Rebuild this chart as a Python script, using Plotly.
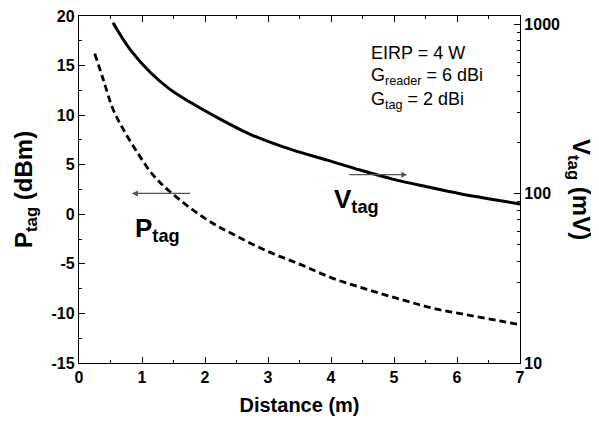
import plotly.graph_objects as go

# V_tag (solid, right log axis, mV)
v_dist = [0.54, 0.81, 1.13, 1.44, 1.76, 2.24, 2.71, 3.03, 3.40, 3.94, 4.46, 4.98, 5.52, 6.05, 6.57, 7.0]
v_tag = [1024, 713, 522, 415, 348, 276, 225, 202, 181, 158, 138, 122, 110, 100, 92.5, 87]

# P_tag (dashed, left axis, dBm)
p_dist = [0.25, 0.38, 0.54, 0.70, 0.92, 1.17, 1.44, 2.0, 2.44, 2.98, 3.51, 4.03, 4.57, 5.1, 5.62, 6.16, 6.68, 6.97]
p_tag = [16.2, 13.7, 10.6, 8.6, 6.3, 4.0, 2.3, -0.42, -2.0, -3.7, -5.05, -6.46, -7.57, -8.57, -9.48, -10.15, -10.75, -11.1]

x_ticks = [0, 1, 2, 3, 4, 5, 6, 7]
y_ticks = [-15, -10, -5, 0, 5, 10, 15, 20]
y2_ticks = [10, 100, 1000]

FONT = "Liberation Sans, Arial, sans-serif"

fig = go.Figure()
fig.add_trace(go.Scatter(x=p_dist, y=p_tag, mode="lines", line=dict(color="black", width=2.8, dash="7px,4px"),
                         line_shape="spline", yaxis="y", showlegend=False))
fig.add_trace(go.Scatter(x=v_dist, y=v_tag, mode="lines", line=dict(color="black", width=3),
                         line_shape="spline", yaxis="y2", showlegend=False))

minor_log = [v * 10 ** k for k in (1, 2) for v in range(2, 10)]

fig.update_layout(
    width=591, height=417,
    margin=dict(l=71, r=79, t=8, b=62, autoexpand=False),
    paper_bgcolor="white", plot_bgcolor="white",
    font=dict(family=FONT, color="black"),
    xaxis=dict(range=[0, 7], tickvals=x_ticks, ticktext=[f"<b>{t}</b>" for t in x_ticks],
               ticks="inside", ticklen=6, tickwidth=1.2, tickcolor="black",
               showline=True, linecolor="black", linewidth=1.3,
               mirror="ticks", showgrid=False, zeroline=False, automargin=False,
               ticklabeloverflow="allow",
               minor=dict(dtick=0.5, ticks="inside", ticklen=3, tickcolor="black", showgrid=False),
               tickfont=dict(size=16, family=FONT),
               title=dict(text="<b>Distance (m)</b>", font=dict(size=20, family=FONT), standoff=12)),
    yaxis=dict(range=[-15, 20], tickvals=y_ticks, ticktext=[f"<b>{t}</b>" for t in y_ticks],
               ticks="inside", ticklen=6, tickwidth=1.2, tickcolor="black",
               showline=True, linecolor="black", linewidth=1.3,
               showgrid=False, zeroline=False, automargin=False,
               ticklabeloverflow="allow",
               minor=dict(dtick=2.5, ticks="inside", ticklen=3, tickcolor="black", showgrid=False),
               tickfont=dict(size=16, family=FONT)),
    yaxis2=dict(type="log", range=[1, 3.05], overlaying="y", side="right",
                tickvals=y2_ticks, ticktext=[f"<b>{t}</b>" for t in y2_ticks],
                ticks="inside", ticklen=6, tickwidth=1.2, tickcolor="black",
                showline=True, linecolor="black", linewidth=1.3,
                showgrid=False, zeroline=False, automargin=False,
                ticklabeloverflow="allow",
                minor=dict(tickvals=minor_log, ticks="inside", ticklen=3, tickcolor="black", showgrid=False),
                tickfont=dict(size=16, family=FONT)),
)

annotations = [
    dict(xref="paper", yref="paper", x=0.0, y=0.5, xshift=-71, text="<b>P<sub>tag</sub> (dBm)</b>",
         textangle=-90, showarrow=False, font=dict(size=24, family=FONT)),
    dict(xref="paper", yref="paper", x=1.0, y=0.5, xshift=77, text="<b>V<sub>tag</sub> (mV)</b>",
         textangle=90, showarrow=False, font=dict(size=24, family=FONT)),
    dict(xref="x", yref="y", x=4.6, y=16.3, text="EIRP = 4 W", showarrow=False, xanchor="left",
         font=dict(size=18, family=FONT)),
    dict(xref="x", yref="y", x=4.6, y=13.9, text="G<sub>reader</sub> = 6 dBi", showarrow=False, xanchor="left",
         font=dict(size=18, family=FONT)),
    dict(xref="x", yref="y", x=4.6, y=11.5, text="G<sub>tag</sub> = 2 dBi", showarrow=False, xanchor="left",
         font=dict(size=18, family=FONT)),
    dict(xref="x", yref="y", x=0.86, y=-1.5, text="<b>P<sub>tag</sub></b>", showarrow=False, xanchor="left",
         font=dict(size=26, family=FONT)),
    dict(xref="x", yref="y", x=4.02, y=1.4, text="<b>V<sub>tag</sub></b>", showarrow=False, xanchor="left",
         font=dict(size=26, family=FONT)),
    dict(xref="x", yref="y", axref="x", ayref="y", x=0.84, y=2.1, ax=1.79, ay=2.1, text="",
         showarrow=True, arrowhead=2, arrowsize=1, arrowwidth=1.2, arrowcolor="#555"),
    dict(xref="x", yref="y", axref="x", ayref="y", x=5.21, y=4.0, ax=4.27, ay=4.0, text="",
         showarrow=True, arrowhead=2, arrowsize=1, arrowwidth=1.2, arrowcolor="#555"),
]
fig.update_layout(annotations=annotations)

fig.write_html("out.html")
